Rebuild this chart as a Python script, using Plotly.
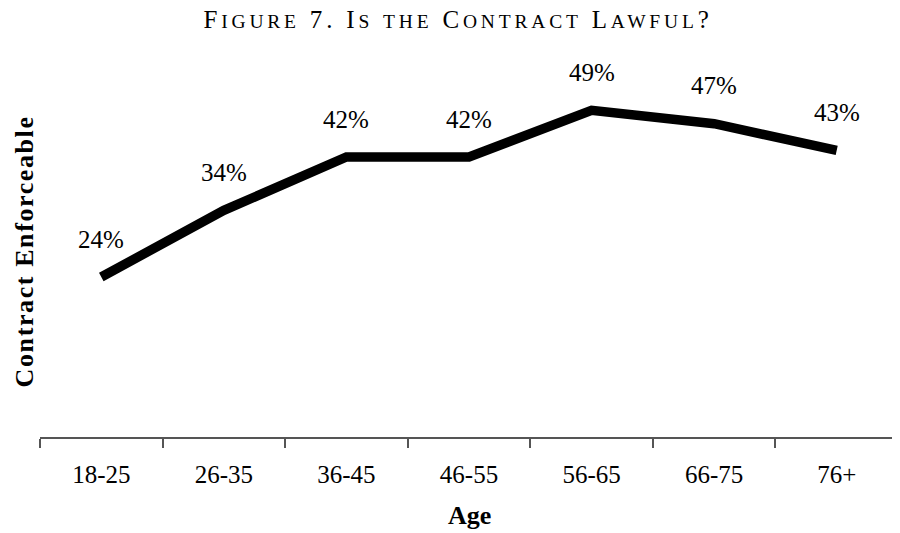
import plotly.graph_objects as go

# age bands and share who said the contract is enforceable
ages = ["18-25", "26-35", "36-45", "46-55", "56-65", "66-75", "76+"]
enforceable = [0.24, 0.34, 0.42, 0.42, 0.49, 0.47, 0.43]
labels = ["24%", "34%", "42%", "42%", "49%", "47%", "43%"]

serif = "Liberation Serif, Times New Roman, serif"


def small_caps(text, small=19.5, spacing=3.8):
    # hand-made small caps: capitals stay big, lower case goes up to a smaller size
    out = []
    for ch in text:
        if ch.islower():
            out.append(f"<span style='font-size:{small}px'>{ch.upper()}</span>")
        else:
            out.append(ch)
    return f"<span style='letter-spacing:{spacing}px'>{''.join(out)}</span>"


fig = go.Figure()

fig.add_trace(go.Scatter(
    x=ages,
    y=enforceable,
    mode="lines",
    line=dict(color="black", width=9.5),
    showlegend=False,
    hoverinfo="skip",
))

# percent labels sitting above each point
for a, v, t in zip(ages, enforceable, labels):
    fig.add_annotation(
        x=a, y=v, text=t, showarrow=False,
        yshift=38, font=dict(family=serif, size=25, color="black"),
    )

# axis titles
fig.add_annotation(
    text="<span style='letter-spacing:1.6px'><b>Contract Enforceable</b></span>",
    xref="paper", yref="paper", x=0, y=0.464, xshift=-16,
    textangle=-90, showarrow=False, xanchor="center", yanchor="middle",
    font=dict(family=serif, size=26, color="black"),
)
fig.add_annotation(
    text="<b>Age</b>",
    xref="paper", yref="paper", x=0.5, y=-0.195,
    showarrow=False, xanchor="center", yanchor="middle",
    font=dict(family=serif, size=26, color="black"),
)

fig.update_xaxes(
    type="category",
    range=[-0.5, 6.5],
    automargin=False,
    showline=True, linecolor="#555", linewidth=1.5,
    ticks="outside", tickson="boundaries", ticklen=9, tickcolor="#555", tickwidth=1.5,
    ticklabelstandoff=14,
    tickfont=dict(family=serif, size=25, color="black"),
    showgrid=False,
)
fig.update_yaxes(
    range=[0, 0.6],
    automargin=False,
    showline=False, showgrid=False, zeroline=False,
    showticklabels=False, ticks="",
)

# the page adds an 8px body margin, so the margins here are 8px smaller on the left/top
fig.update_layout(
    width=900, height=533,
    margin=dict(l=32, r=10, t=29, b=104),
    paper_bgcolor="white", plot_bgcolor="white",
    title=dict(
        text=small_caps("Figure 7. Is the Contract Lawful?"),
        x=0.5, xanchor="center", y=0.996, yanchor="top",
        font=dict(family=serif, size=25, color="black"),
    ),
)

fig.write_html("out.html")
